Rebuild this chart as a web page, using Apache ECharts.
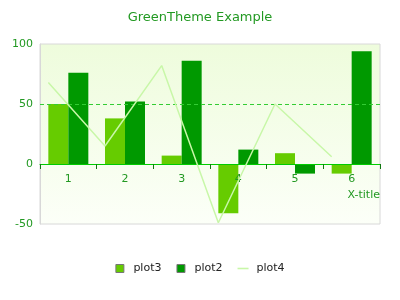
<!DOCTYPE html>
<html>
<head>
<meta charset="utf-8">
<script src="https://cdn.jsdelivr.net/npm/echarts@6/dist/echarts.min.js"></script>
<style>
  html, body { margin: 0; padding: 0; background: #ffffff; }
  #chart { width: 400px; height: 300px; }
</style>
</head>
<body>
<div id="chart"></div>
<script>
// Categories and series values
var categories = ['1', '2', '3', '4', '5', '6'];
var plot3 = [50, 38, 7, -41, 9, -8];
var plot2 = [76, 52, 86, 12, -8, 94];
var plot4 = [68, 15, 82, -49, 50, 6];
var yTicks = { min: -50, max: 100, interval: 50 };
var referenceLevel = 50;

var textGreen = '#229922';
var font = 'DejaVu Sans';

var chart = echarts.init(document.getElementById('chart'), null, { renderer: 'canvas' });

var chartHeight = 300;
var gridBox = { top: 44, bottom: 76 };
var plotHeight = chartHeight - gridBox.top - gridBox.bottom;
// the category axis is drawn across the value 0
var zeroOffset = -plotHeight * (0 - yTicks.min) / (yTicks.max - yTicks.min);

chart.setOption({
  animation: false,
  textStyle: { fontFamily: font },
  title: {
    text: 'GreenTheme Example',
    left: 'center',
    top: 6,
    textStyle: { fontFamily: font, fontSize: 13, fontWeight: 'normal', color: textGreen }
  },
  legend: {
    top: 258,
    left: 'center',
    itemWidth: 11,
    itemHeight: 8,
    itemGap: 15,
    symbolKeepAspect: true,
    textStyle: { fontFamily: font, fontSize: 11, color: '#222222', padding: [0, 0, 0, 3] },
    data: [
      { name: 'plot3', icon: 'path://M0,0h8v8h-8z', itemStyle: { borderColor: '#777777', borderWidth: 1 } },
      { name: 'plot2', icon: 'path://M0,0h8v8h-8z', itemStyle: { borderColor: '#777777', borderWidth: 1 } },
      { name: 'plot4', icon: 'path://M0,0h11v1.6h-11z', itemStyle: { color: '#c8f7a8', borderWidth: 0 } }
    ]
  },
  grid: [
    {
      left: 40, right: 20, top: gridBox.top, bottom: gridBox.bottom,
      containLabel: false,
      outerBoundsMode: 'none',
      show: true,
      borderColor: '#d8d8d8',
      borderWidth: 1,
      backgroundColor: new echarts.graphic.LinearGradient(0, 0, 0, 1, [
        { offset: 0, color: '#eefcdc' },
        { offset: 1, color: '#fcfff8' }
      ])
    },
    // line series sits on a grid shifted left by one bar width
    {
      left: 20, right: 40, top: gridBox.top, bottom: gridBox.bottom,
      containLabel: false,
      outerBoundsMode: 'none'
    }
  ],
  xAxis: [
    {
      type: 'category',
      gridIndex: 0,
      data: categories,
      position: 'bottom',
      offset: zeroOffset,
      z: 3,
      name: 'X-title',
      nameLocation: 'end',
      nameGap: 0,
      nameTextStyle: {
        fontFamily: font, fontSize: 11, color: textGreen,
        align: 'right', verticalAlign: 'top', padding: [26, 0, 0, 0]
      },
      axisLine: { onZero: false, lineStyle: { color: '#00cc00', width: 1 } },
      axisTick: { show: true, interval: 0, length: 5, lineStyle: { color: '#117711', width: 1 } },
      axisLabel: { fontFamily: font, fontSize: 11, color: textGreen, margin: 10 },
      splitLine: { show: false }
    },
    {
      type: 'category',
      gridIndex: 1,
      data: categories,
      show: false
    }
  ],
  yAxis: [
    {
      type: 'value',
      gridIndex: 0,
      min: yTicks.min,
      max: yTicks.max,
      interval: yTicks.interval,
      name: 'Y-title',
      nameLocation: 'middle',
      nameGap: 30,
      nameTextStyle: { fontFamily: font, fontSize: 11, color: textGreen },
      axisLine: { show: true, lineStyle: { color: '#d8d8d8' } },
      axisTick: { show: false },
      axisLabel: { fontFamily: font, fontSize: 11, color: textGreen, margin: 7 },
      splitLine: { show: false }
    },
    {
      type: 'value',
      gridIndex: 1,
      min: yTicks.min,
      max: yTicks.max,
      interval: yTicks.interval,
      show: false,
      splitLine: { show: false }
    }
  ],
  series: [
    {
      name: 'plot3',
      type: 'bar',
      xAxisIndex: 0,
      yAxisIndex: 0,
      data: plot3,
      barWidth: 20,
      barGap: '0%',
      itemStyle: { color: '#66cc00' },
      markLine: {
        silent: true,
        symbol: 'none',
        label: { show: false },
        lineStyle: { color: '#33cc33', type: [4, 3], width: 1 },
        data: [{ yAxis: referenceLevel }]
      }
    },
    {
      name: 'plot2',
      type: 'bar',
      xAxisIndex: 0,
      yAxisIndex: 0,
      data: plot2,
      barWidth: 20,
      barGap: '0%',
      itemStyle: { color: '#009900' }
    },
    {
      name: 'plot4',
      type: 'line',
      xAxisIndex: 1,
      yAxisIndex: 1,
      data: plot4,
      symbol: 'none',
      lineStyle: { color: '#c8f7a8', width: 1.5 },
      itemStyle: { color: '#c8f7a8' },
      z: 5
    }
  ]
});
</script>
</body>
</html>
